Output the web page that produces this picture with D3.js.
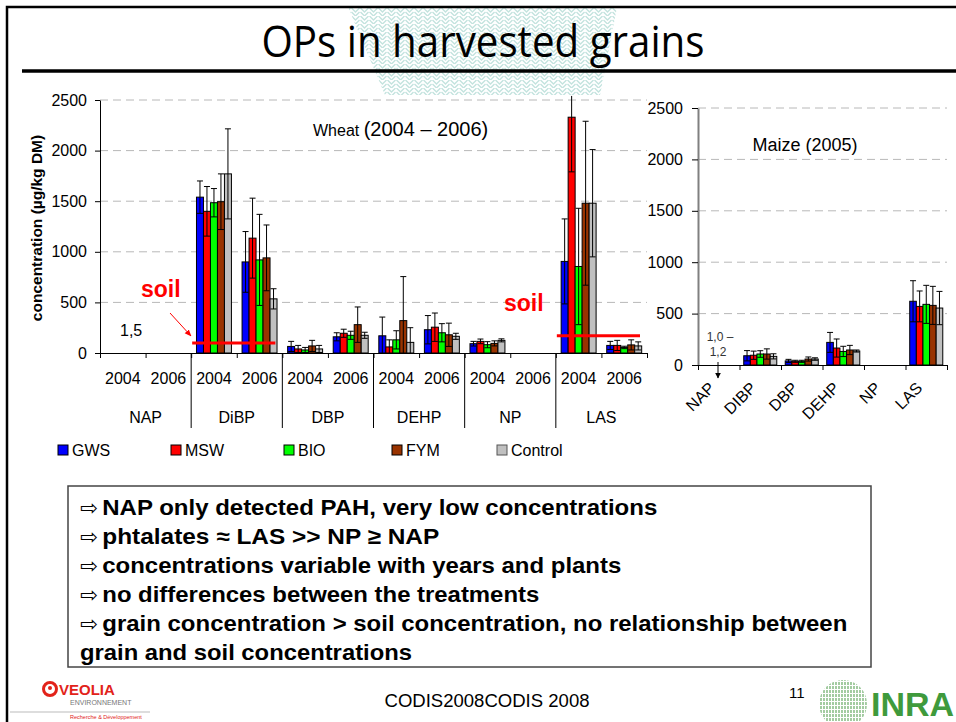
<!DOCTYPE html>
<html>
<head>
<meta charset="utf-8">
<script src="https://cdnjs.cloudflare.com/ajax/libs/d3/7.8.5/d3.min.js"></script>
<style>
body { margin: 0; background: #fff; }
svg { display: block; font-family: "Liberation Sans", Arial, sans-serif; }
</style>
</head>
<body>
<svg width="956" height="722"></svg>
<script>
var series = ["GWS", "MSW", "BIO", "FYM", "Control"];
var compounds = ["NAP", "DiBP", "DBP", "DEHP", "NP", "LAS"];
var years = ["2004", "2006"];
var maizeCompounds = ["NAP", "DIBP", "DBP", "DEHP", "NP", "LAS"];
var yTicks = [0, 500, 1000, 1500, 2000, 2500];

// wheat, one value per compound/year (NAP 04, NAP 06, DiBP 04, DiBP 06 ...)
var wheatGWS     = [null, null, 1540, 900, 65, 160, 170, 230, 92, null, 905, 75];
var wheatMSW     = [null, null, 1400, 1135, 40, 195, 60, 255, 115, null, 2330, 75];
var wheatBIO     = [null, null, 1485, 920, 30, 175, 130, 200, 82, null, 855, 55];
var wheatFYM     = [null, null, 1495, 940, 70, 280, 320, 180, 95, null, 1480, 80];
var wheatControl = [null, null, 1770, 535, 40, 175, 105, 165, 125, null, 1480, 70];

var wheatGWSerr     = [null, null, 160, 300, 50, 40, 185, 140, 23, null, 420, 40];
var wheatMSWerr     = [null, null, 245, 395, 35, 40, 70, 140, 23, null, 540, 50];
var wheatBIOerr     = [null, null, 140, 450, 25, 40, 90, 90, 30, null, 575, 12];
var wheatFYMerr     = [null, null, 275, 325, 55, 175, 435, 115, 25, null, 810, 50];
var wheatControlerr = [null, null, 445, 100, 35, 30, 145, 30, 15, null, 530, 40];

// maize 2005, one value per compound
var maizeGWS     = [null, 90, 40, 220, null, 620];
var maizeMSW     = [null, 95, 36, 165, null, 570];
var maizeBIO     = [null, 107, 36, 132, null, 590];
var maizeFYM     = [null, 107, 58, 146, null, 580];
var maizeControl = [null, 84, 58, 136, null, 554];

var maizeGWSerr     = [null, 50, 15, 97, null, 200];
var maizeMSWerr     = [null, 40, 10, 88, null, 150];
var maizeBIOerr     = [null, 32, 10, 50, null, 185];
var maizeFYMerr     = [null, 50, 20, 45, null, 185];
var maizeControlerr = [null, 25, 12, 10, null, 162];

// soil concentrations (red lines)
var soilCompounds = ["DiBP", "LAS"];
var soilValues = [100, 170];

var textLines = [
    "NAP only detected PAH, very low concentrations",
    "phtalates \u2248 LAS >> NP \u2265 NAP",
    "concentrations variable with years and plants",
    "no differences between the treatments",
    "grain concentration > soil concentration, no relationship between",
    "grain and soil concentrations"
];
//Data

var svg = d3.select("svg");
var color = d3.scaleOrdinal().domain(series)
    .range(["#0000ff", "#ff0000", "#00ff00", "#993300", "#c0c0c0"]);

var slots = [];
compounds.forEach(function (c) {
    years.forEach(function (y) { slots.push(c + "|" + y); });
});

var wheatMeans = [wheatGWS, wheatMSW, wheatBIO, wheatFYM, wheatControl],
    wheatErrs = [wheatGWSerr, wheatMSWerr, wheatBIOerr, wheatFYMerr, wheatControlerr],
    maizeMeans = [maizeGWS, maizeMSW, maizeBIO, maizeFYM, maizeControl],
    maizeErrs = [maizeGWSerr, maizeMSWerr, maizeBIOerr, maizeFYMerr, maizeControlerr];

var wheatData = [], maizeData = [];
series.forEach(function (s, i) {
    slots.forEach(function (k, j) {
        if (wheatMeans[i][j] != null) wheatData.push({key: k, s: s, v: wheatMeans[i][j], e: wheatErrs[i][j]});
    });
    maizeCompounds.forEach(function (k, j) {
        if (maizeMeans[i][j] != null) maizeData.push({key: k, s: s, v: maizeMeans[i][j], e: maizeErrs[i][j]});
    });
});
//Flat tables for the bars

// ---- slide decoration ----
var defs = svg.append("defs");
var pat = defs.append("pattern").attr("id", "weave")
    .attr("patternUnits", "userSpaceOnUse").attr("width", 9).attr("height", 8);
pat.append("path").attr("d", "M0.5,0 L4.5,4 L8.5,0 M0.5,4 L4.5,8 L8.5,4")
    .attr("fill", "none").attr("stroke", "#c3e3de").attr("stroke-width", 1.4);
defs.append("marker").attr("id", "redhead").attr("viewBox", "0 0 10 10")
    .attr("refX", 9).attr("refY", 5).attr("markerWidth", 7).attr("markerHeight", 7)
    .attr("orient", "auto")
    .append("path").attr("d", "M0,1 L10,5 L0,9 z").attr("fill", "#ff0000");
defs.append("marker").attr("id", "blackhead").attr("viewBox", "0 0 10 10")
    .attr("refX", 9).attr("refY", 5).attr("markerWidth", 6).attr("markerHeight", 6)
    .attr("orient", "auto")
    .append("path").attr("d", "M0,0 L10,5 L0,10 z").attr("fill", "#000");

svg.append("path").attr("d", "M348,7 L617,7 L600,95 L385,95 Z")
    .attr("fill", "url(#weave)");
svg.append("path").attr("d", "M7,722 L7,7 L956,7")
    .attr("fill", "none").attr("stroke", "#000").attr("stroke-width", 2.5);
svg.append("line").attr("x1", 22).attr("x2", 956).attr("y1", 71).attr("y2", 71)
    .attr("stroke", "#000").attr("stroke-width", 3.5);
svg.append("text").attr("x", 483).attr("y", 57).attr("text-anchor", "middle")
    .attr("textLength", 443).attr("lengthAdjust", "spacingAndGlyphs")
    .style("font-family", "'Liberation Sans Narrow', 'Open Sans', sans-serif")
    .style("font-size", "44px")
    .text("OPs in harvested grains");
//Title, frame and background weave

// ---- wheat chart ----
var wx0 = d3.scaleBand().domain(slots).range([100, 647]),
    wx1 = d3.scaleBand().domain(series).range([0, wx0.bandwidth()]).paddingOuter(0.76),
    wxi = d3.scaleLinear().domain([0, slots.length]).range([100, 647]),
    wy = d3.scaleLinear().domain([0, 2500]).range([353, 100]);

var gw = svg.append("g");

gw.selectAll(".grid").data(yTicks.slice(1)).enter().append("line")
    .attr("x1", 100).attr("x2", 647)
    .attr("y1", function (d) { return wy(d); }).attr("y2", function (d) { return wy(d); })
    .attr("stroke", "#b8b8b8").attr("stroke-dasharray", "8,5");

gw.append("g").attr("transform", "translate(100,0)")
    .call(d3.axisLeft(wy).tickValues(yTicks).tickFormat(d3.format("d"))
        .tickSize(5).tickSizeOuter(0).tickPadding(8))
    .call(function (g) {
        g.selectAll("text").style("font-size", "16px").attr("fill", "#000");
        g.select(".domain").attr("stroke", "#000");
    });

gw.append("g").attr("transform", "translate(0,353)")
    .call(d3.axisBottom(wxi).tickValues(d3.range(slots.length + 1)).tickFormat("").tickSize(5).tickSizeOuter(0));

gw.selectAll(".div").data(d3.range(1, compounds.length)).enter().append("line")
    .attr("x1", function (d) { return wxi(d * 2); }).attr("x2", function (d) { return wxi(d * 2); })
    .attr("y1", 353).attr("y2", 428).attr("stroke", "#000");

gw.selectAll(".yr").data(slots).enter().append("text")
    .attr("x", function (d) { return wx0(d) + wx0.bandwidth() / 2; })
    .attr("y", 384).attr("text-anchor", "middle").style("font-size", "16px")
    .text(function (d) { return d.split("|")[1]; });

gw.selectAll(".cat").data(compounds).enter().append("text")
    .attr("x", function (d) { return wx0(d + "|2006"); })
    .attr("y", 423).attr("text-anchor", "middle").style("font-size", "16px")
    .text(function (d) { return d; });

gw.selectAll(".bar").data(wheatData).enter().append("rect")
    .attr("x", function (d) { return wx0(d.key) + wx1(d.s); })
    .attr("y", function (d) { return wy(d.v); })
    .attr("width", wx1.bandwidth())
    .attr("height", function (d) { return wy(0) - wy(d.v); })
    .attr("fill", function (d) { return color(d.s); })
    .attr("stroke", "#000").attr("stroke-width", 1);

function errBars(g, data, x0, x1, y, top) {
    var eb = g.selectAll(".err").data(data).enter().append("g")
        .attr("transform", function (d) { return "translate(" + (x0(d.key) + x1(d.s) + x1.bandwidth() / 2) + ",0)"; });
    eb.append("line")
        .attr("y1", function (d) { return y(Math.min(d.v + d.e, top)); })
        .attr("y2", function (d) { return y(Math.max(d.v - d.e, 0)); })
        .attr("stroke", "#000");
    eb.filter(function (d) { return d.v + d.e < top; }).append("line")
        .attr("x1", -3).attr("x2", 3)
        .attr("y1", function (d) { return y(d.v + d.e); }).attr("y2", function (d) { return y(d.v + d.e); })
        .attr("stroke", "#000");
    eb.filter(function (d) { return d.v - d.e > 0; }).append("line")
        .attr("x1", -3).attr("x2", 3)
        .attr("y1", function (d) { return y(d.v - d.e); }).attr("y2", function (d) { return y(d.v - d.e); })
        .attr("stroke", "#000");
}
errBars(gw, wheatData, wx0, wx1, wy, 2540);
//Wheat bars and error bars

gw.selectAll(".soil").data(soilCompounds).enter().append("line")
    .attr("x1", function (d) { return wx0(d + "|2004") + 1; })
    .attr("x2", function (d) { return wx0(d + "|2006") + wx0.bandwidth() - 7; })
    .attr("y1", function (d, i) { return wy(soilValues[i]); })
    .attr("y2", function (d, i) { return wy(soilValues[i]); })
    .attr("stroke", "#ff0000").attr("stroke-width", 3);

gw.append("text").attr("x", 141).attr("y", 297).attr("fill", "#ff0000")
    .style("font-size", "23px").style("font-weight", "bold").text("soil");
gw.append("text").attr("x", 504).attr("y", 311).attr("fill", "#ff0000")
    .style("font-size", "23px").style("font-weight", "bold").text("soil");
gw.append("line").attr("x1", 170).attr("y1", 313).attr("x2", 191).attr("y2", 336)
    .attr("stroke", "#ff0000").attr("stroke-width", 1).attr("marker-end", "url(#redhead)");
gw.append("text").attr("x", 120).attr("y", 336).style("font-size", "16px").text("1,5");

var wt = gw.append("text").attr("x", 313).attr("y", 136);
wt.append("tspan").style("font-size", "16px").text("Wheat ");
wt.append("tspan").style("font-size", "20px").text("(2004 \u2013 2006)");

gw.append("text").attr("transform", "translate(42,228) rotate(-90)")
    .attr("text-anchor", "middle").style("font-size", "15.5px").style("font-weight", "bold")
    .text("concentration (\u00b5g/kg DM)");
//Soil markers and labels

// ---- maize chart ----
var mx0 = d3.scaleBand().domain(maizeCompounds).range([698, 947]),
    mx1 = d3.scaleBand().domain(series).range([0, mx0.bandwidth()]).paddingOuter(0.64),
    mxi = d3.scaleLinear().domain([0, maizeCompounds.length]).range([698, 947]),
    my = d3.scaleLinear().domain([0, 2500]).range([365, 108]);

var gm = svg.append("g");

gm.selectAll(".grid").data(yTicks.slice(1)).enter().append("line")
    .attr("x1", 698).attr("x2", 947)
    .attr("y1", function (d) { return my(d); }).attr("y2", function (d) { return my(d); })
    .attr("stroke", "#b8b8b8").attr("stroke-dasharray", "8,5");

gm.append("g").attr("transform", "translate(698,0)")
    .call(d3.axisLeft(my).tickValues(yTicks).tickFormat(d3.format("d"))
        .tickSize(6).tickSizeOuter(0).tickPadding(9))
    .call(function (g) {
        g.selectAll("text").style("font-size", "16px").attr("fill", "#000");
        g.select(".domain").attr("stroke", "#808080").attr("stroke-width", 2);
    });

gm.append("g").attr("transform", "translate(0,365)")
    .call(d3.axisBottom(mxi).tickValues(d3.range(maizeCompounds.length + 1)).tickFormat("").tickSize(5).tickSizeOuter(0));

gm.selectAll(".cat").data(maizeCompounds).enter().append("text")
    .attr("transform", function (d) { return "translate(" + (mx0(d) + mx0.bandwidth() / 2 - 3) + ",389) rotate(-45)"; })
    .attr("text-anchor", "end").style("font-size", "16px")
    .text(function (d) { return d; });

gm.selectAll(".bar").data(maizeData).enter().append("rect")
    .attr("x", function (d) { return mx0(d.key) + mx1(d.s); })
    .attr("y", function (d) { return my(d.v); })
    .attr("width", mx1.bandwidth())
    .attr("height", function (d) { return my(0) - my(d.v); })
    .attr("fill", function (d) { return color(d.s); })
    .attr("stroke", "#000").attr("stroke-width", 1);

errBars(gm, maizeData, mx0, mx1, my, 2600);

gm.append("text").attr("x", 805).attr("y", 151).attr("text-anchor", "middle")
    .style("font-size", "18px").text("Maize (2005)");
gm.append("text").attr("x", 720).attr("y", 341).attr("text-anchor", "middle")
    .style("font-size", "12px").attr("fill", "#333").text("1,0 \u2013");
gm.append("text").attr("x", 718).attr("y", 356).attr("text-anchor", "middle")
    .style("font-size", "12px").attr("fill", "#333").text("1,2");
gm.append("line").attr("x1", 718).attr("x2", 718).attr("y1", 362).attr("y2", 378)
    .attr("stroke", "#000").attr("marker-end", "url(#blackhead)");
//Maize bars

// ---- legend ----
var lg = svg.selectAll(".leg").data(series).enter().append("g")
    .attr("transform", function (d, i) { return "translate(" + [58, 171, 284, 392, 497][i] + ",445)"; });
lg.append("rect").attr("width", 10).attr("height", 10)
    .attr("fill", function (d) { return color(d); })
    .attr("stroke", function (d) { return d == "Control" ? "#555" : "#000"; });
lg.append("text").attr("x", 14).attr("y", 10.5).style("font-size", "16px")
    .text(function (d) { return d; });

// ---- text box ----
svg.append("rect").attr("x", 68).attr("y", 486).attr("width", 803).attr("height", 181)
    .attr("fill", "none").attr("stroke", "#444").attr("stroke-width", 1.5);
var tl = svg.selectAll(".note").data(textLines).enter().append("text")
    .attr("x", 80)
    .attr("y", function (d, i) { return 515 + i * 29; })
    .style("font-size", "22px").style("font-weight", "bold");
tl.filter(function (d, i) { return i < 5; }).append("tspan")
    .style("font-family", "'DejaVu Sans', sans-serif").style("font-weight", "normal")
    .style("font-size", "21px").text("\u21e8 ");
tl.append("tspan").attr("dx", function (d, i) { return i < 5 ? -2 : 0; })
    .attr("textLength", function (d, i) { return [555, 337, 519, 437, 745, 332][i]; })
    .attr("lengthAdjust", "spacingAndGlyphs")
    .text(function (d) { return d; });

// ---- footer ----
svg.append("text").attr("x", 487).attr("y", 707).attr("text-anchor", "middle")
    .attr("textLength", 205).attr("lengthAdjust", "spacingAndGlyphs")
    .style("font-size", "18px").text("CODIS2008CODIS 2008");
svg.append("text").attr("x", 789).attr("y", 698).style("font-size", "15px").text("11");

svg.append("circle").attr("cx", 50).attr("cy", 689).attr("r", 6.5)
    .attr("fill", "none").attr("stroke", "#e2231a").attr("stroke-width", 3);
svg.append("circle").attr("cx", 50).attr("cy", 688).attr("r", 2).attr("fill", "#e2231a");
svg.append("text").attr("x", 59).attr("y", 695).attr("fill", "#e2231a")
    .style("font-size", "15px").style("font-weight", "bold").text("VEOLIA");
svg.append("text").attr("x", 70).attr("y", 705).attr("fill", "#777")
    .style("font-size", "7px").text("ENVIRONNEMENT");
svg.append("line").attr("x1", 10).attr("x2", 150).attr("y1", 712).attr("y2", 712)
    .attr("stroke", "#bbb");
svg.append("text").attr("x", 70).attr("y", 719).attr("fill", "#e2231a")
    .style("font-size", "5.5px").text("Recherche & D\u00e9veloppement");

defs.append("clipPath").attr("id", "inraClip")
    .append("circle").attr("cx", 843).attr("cy", 704).attr("r", 24);
svg.append("g").attr("clip-path", "url(#inraClip)")
    .selectAll("line").data(d3.range(818, 870, 3)).enter().append("line")
    .attr("x1", function (d) { return d; }).attr("x2", function (d) { return d; })
    .attr("y1", 678).attr("y2", 730)
    .attr("stroke", "#8cbf8a").attr("stroke-width", 1.6).attr("stroke-dasharray", "3,1");
svg.append("text").attr("x", 871).attr("y", 716).attr("fill", "#3f9a3c")
    .style("font-size", "34px").style("font-weight", "bold").text("INRA");
</script>
</body>
</html>
